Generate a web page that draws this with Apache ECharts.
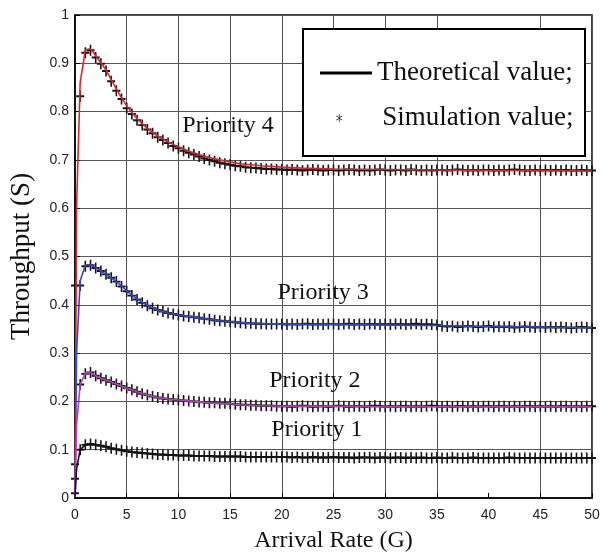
<!DOCTYPE html>
<html>
<head>
<meta charset="utf-8">
<script src="https://cdn.jsdelivr.net/npm/echarts@6/dist/echarts.min.js"></script>
<style>html,body{margin:0;padding:0;background:#fff;}#c{width:614px;height:558px;}</style>
</head>
<body>
<div id="c"></div>
<script>
// X values of theoretical curves
var thX = [0, 0.15, 0.5, 1, 1.5, 2, 2.5, 3, 3.5, 4, 4.5, 5, 5.5, 6, 7, 8, 9, 10, 11, 12, 13, 14, 15, 16, 17, 18, 20, 22, 25, 30, 35, 40, 45, 50];
var thP4 = [0, 0.60, 0.86, 0.928, 0.93, 0.916, 0.901, 0.886, 0.866, 0.847, 0.829, 0.812, 0.798, 0.786, 0.765, 0.749, 0.737, 0.727, 0.718, 0.711, 0.705, 0.700, 0.696, 0.692, 0.690, 0.688, 0.685, 0.683, 0.681, 0.680, 0.679, 0.678, 0.678, 0.677];
var thP3 = [0, 0.30, 0.45, 0.482, 0.483, 0.477, 0.470, 0.463, 0.456, 0.448, 0.439, 0.429, 0.420, 0.412, 0.399, 0.389, 0.383, 0.379, 0.376, 0.373, 0.370, 0.367, 0.365, 0.363, 0.362, 0.361, 0.360, 0.359, 0.359, 0.358, 0.357, 0.355, 0.354, 0.352];
var thP2 = [0, 0.15, 0.235, 0.258, 0.260, 0.253, 0.248, 0.244, 0.240, 0.236, 0.232, 0.228, 0.224, 0.220, 0.213, 0.208, 0.205, 0.203, 0.201, 0.199, 0.197, 0.196, 0.195, 0.193, 0.192, 0.191, 0.190, 0.190, 0.190, 0.189, 0.189, 0.189, 0.189, 0.189];
var thP1 = [0, 0.06, 0.100, 0.110, 0.111, 0.110, 0.108, 0.106, 0.103, 0.101, 0.099, 0.097, 0.095, 0.094, 0.092, 0.090, 0.089, 0.088, 0.088, 0.087, 0.087, 0.086, 0.086, 0.086, 0.085, 0.085, 0.085, 0.084, 0.084, 0.084, 0.083, 0.083, 0.083, 0.083];

// X values of simulation points
var simX = [0, 0.5, 1, 1.5, 2, 2.5, 3, 3.5, 4, 4.5, 5, 5.5, 6, 6.5, 7, 7.5, 8, 8.5, 9, 9.5,
  10, 10.5, 11, 11.5, 12, 12.5, 13, 13.5, 14, 14.5, 15, 15.5, 16, 16.5, 17, 17.5, 18, 18.5, 19, 19.5,
  20, 20.5, 21, 21.5, 22, 22.5, 23, 23.5, 24, 24.5, 25, 25.5, 26, 26.5, 27, 27.5, 28, 28.5, 29, 29.5,
  30, 30.5, 31, 31.5, 32, 32.5, 33, 33.5, 34, 34.5, 35, 35.5, 36, 36.5, 37, 37.5, 38, 38.5, 39, 39.5,
  40, 40.5, 41, 41.5, 42, 42.5, 43, 43.5, 44, 44.5, 45, 45.5, 46, 46.5, 47, 47.5, 48, 48.5, 49, 49.5, 50];
var simP4 = [0.44, 0.832, 0.922, 0.927, 0.912, 0.899, 0.884, 0.863, 0.843, 0.826,
  0.807, 0.795, 0.782, 0.772, 0.763, 0.755, 0.747, 0.741, 0.735, 0.729,
  0.724, 0.719, 0.715, 0.711, 0.707, 0.703, 0.700, 0.697, 0.694, 0.692,
  0.690, 0.688, 0.687, 0.685, 0.684, 0.683, 0.682, 0.681, 0.681, 0.680,
  0.680,
  0.679, 0.680, 0.679, 0.678, 0.679, 0.680, 0.679, 0.678, 0.679, 0.679,
  0.678, 0.679, 0.680, 0.679, 0.678, 0.679, 0.678, 0.679, 0.680, 0.679,
  0.678, 0.679, 0.679, 0.678, 0.680, 0.679, 0.678, 0.679, 0.678, 0.679,
  0.679, 0.678, 0.679, 0.680, 0.679, 0.678, 0.679, 0.678, 0.679, 0.679,
  0.678, 0.679, 0.678, 0.679, 0.680, 0.679, 0.678, 0.678, 0.679, 0.678,
  0.679, 0.678, 0.679, 0.678, 0.679, 0.678, 0.678, 0.679, 0.678, 0.678];
var simP3 = [0.07, 0.44, 0.480, 0.482, 0.476, 0.470, 0.463, 0.456, 0.448, 0.438,
  0.428, 0.419, 0.411, 0.404, 0.398, 0.393, 0.389, 0.386, 0.383, 0.381,
  0.379, 0.377, 0.376, 0.374, 0.373, 0.371, 0.370, 0.368, 0.367, 0.366,
  0.365, 0.364, 0.363, 0.362, 0.362, 0.361, 0.361, 0.360, 0.360, 0.360,
  0.360,
  0.359, 0.360, 0.359, 0.360, 0.361, 0.359, 0.360, 0.359, 0.360, 0.360,
  0.359, 0.360, 0.361, 0.359, 0.360, 0.359, 0.360, 0.360, 0.359, 0.360,
  0.359, 0.360, 0.360, 0.359, 0.360, 0.361, 0.359, 0.360, 0.359, 0.358,
  0.356, 0.355, 0.356, 0.354, 0.355, 0.356, 0.355, 0.354, 0.355, 0.356,
  0.354, 0.355, 0.354, 0.355, 0.353, 0.354, 0.355, 0.354, 0.353, 0.354,
  0.353, 0.354, 0.353, 0.354, 0.353, 0.352, 0.353, 0.354, 0.353, 0.352];
var simP2 = [0.04, 0.235, 0.257, 0.260, 0.253, 0.248, 0.244, 0.240, 0.236, 0.232,
  0.228, 0.224, 0.220, 0.216, 0.213, 0.210, 0.208, 0.206, 0.205, 0.204,
  0.203, 0.202, 0.201, 0.200, 0.199, 0.198, 0.197, 0.197, 0.196, 0.196,
  0.195, 0.194, 0.193, 0.193, 0.192, 0.192, 0.191, 0.191, 0.191, 0.190,
  0.190,
  0.190, 0.189, 0.190, 0.191, 0.190, 0.189, 0.190, 0.190, 0.189, 0.190,
  0.191, 0.190, 0.189, 0.190, 0.190, 0.189, 0.190, 0.191, 0.190, 0.189,
  0.190, 0.189, 0.190, 0.190, 0.189, 0.190, 0.189, 0.190, 0.191, 0.190,
  0.189, 0.190, 0.189, 0.190, 0.190, 0.189, 0.190, 0.189, 0.190, 0.190,
  0.189, 0.190, 0.190, 0.189, 0.190, 0.189, 0.190, 0.190, 0.189, 0.190,
  0.189, 0.190, 0.189, 0.190, 0.190, 0.189, 0.190, 0.189, 0.190, 0.190];
var simP1 = [0.01, 0.100, 0.110, 0.112, 0.110, 0.108, 0.106, 0.103, 0.101, 0.099,
  0.097, 0.095, 0.094, 0.093, 0.092, 0.091, 0.090, 0.090, 0.089, 0.089,
  0.088, 0.088, 0.088, 0.087, 0.087, 0.087, 0.087, 0.086, 0.086, 0.086,
  0.086, 0.086, 0.086, 0.085, 0.085, 0.085, 0.085, 0.085, 0.085, 0.085,
  0.085,
  0.085, 0.084, 0.085, 0.084, 0.084, 0.085, 0.084, 0.084, 0.084, 0.085,
  0.084, 0.084, 0.084, 0.083, 0.084, 0.084, 0.084, 0.083, 0.084, 0.084,
  0.083, 0.084, 0.084, 0.083, 0.084, 0.083, 0.084, 0.083, 0.083, 0.084,
  0.083, 0.083, 0.084, 0.083, 0.083, 0.083, 0.084, 0.083, 0.083, 0.083,
  0.083, 0.083, 0.083, 0.084, 0.083, 0.083, 0.083, 0.083, 0.083, 0.083,
  0.083, 0.083, 0.083, 0.083, 0.083, 0.083, 0.083, 0.083, 0.083, 0.083];

// Curve annotations (data coordinates)
var labelText = ['Priority 4', 'Priority 3', 'Priority 2', 'Priority 1'];
var labelX = [14.8, 24.0, 23.2, 23.4];
var labelY = [0.77, 0.425, 0.242, 0.142];

var thName = 'Theoretical value;';
var simName = 'Simulation value;';
var serif = '"Liberation Serif", "Times New Roman", serif';
var sans = '"Liberation Sans", Arial, sans-serif';
var lineColors = ['#d8262e', '#3446d6', '#b93cc4', '#111111'];
var thData = [thP4, thP3, thP2, thP1];
var simData = [simP4, simP3, simP2, simP1];
var plusPath = 'path://M4,0 L6,0 L6,4.1 L10,4.1 L10,5.9 L6,5.9 L6,10 L4,10 L4,5.9 L0,5.9 L0,4.1 L4,4.1 Z';
var starPath = 'path://M4.5,0 L5.5,0 L5.5,3.6 L8.6,1.8 L9.1,2.7 L6,4.5 L6,5.5 L9.1,7.3 L8.6,8.2 L5.5,6.4 L5.5,10 L4.5,10 L4.5,6.4 L1.4,8.2 L0.9,7.3 L4,5.5 L4,4.5 L0.9,2.7 L1.4,1.8 L4.5,3.6 Z';
// vertical split lines in turn (x = 0..50); the x = 40 line is absent in the reference
var vGridColors = ['#555', '#555', '#555', '#555', '#555', '#555', '#555', '#555', 'rgba(0,0,0,0)', '#555', '#555'];

function pairs(xs, ys) { return xs.map(function (x, i) { return [x, ys[i]]; }); }

var series = [];
for (var k = 0; k < 4; k++) {
  series.push({
    name: simName, type: 'line', data: pairs(simX, simData[k]),
    lineStyle: { width: 0, opacity: 0 }, symbol: plusPath, symbolSize: [8, 11],
    itemStyle: { color: '#151515' }, z: 2, silent: true
  });
}
for (var k2 = 0; k2 < 4; k2++) {
  series.push({
    name: thName, type: 'line', data: pairs(thX, thData[k2]), showSymbol: false, symbol: 'none',
    lineStyle: { width: 1.6, color: lineColors[k2] }, itemStyle: { color: lineColors[k2] }, z: 3,
    markPoint: {
      symbol: 'circle', symbolSize: 0, silent: true,
      data: [{ coord: [labelX[k2], labelY[k2]] }],
      label: { show: true, position: 'inside', formatter: labelText[k2], fontFamily: serif, fontSize: 24, color: '#111' }
    }
  });
}

var chart = echarts.init(document.getElementById('c'));
chart.setOption({
  animation: false,
  backgroundColor: '#fff',
  grid: { left: 75, right: 22, top: 15, bottom: 56, show: true, borderColor: '#000', borderWidth: 1.5 },
  xAxis: {
    type: 'value', min: 0, max: 50, interval: 5,
    name: 'Arrival Rate (G)', nameLocation: 'middle', nameGap: 31,
    nameTextStyle: { fontFamily: serif, fontSize: 24, color: '#111' },
    axisLine: { lineStyle: { color: '#000', width: 1.5 } },
    axisTick: { inside: true, length: 5, lineStyle: { color: '#000' } },
    axisLabel: { fontFamily: sans, fontSize: 14, color: '#222', margin: 10 },
    splitLine: { show: true, lineStyle: { color: vGridColors, width: 1 } }
  },
  yAxis: {
    type: 'value', min: 0, max: 1, interval: 0.1,
    name: 'Throughput (S)', nameLocation: 'middle', nameGap: 40, nameRotate: 90,
    nameTextStyle: { fontFamily: serif, fontSize: 27, color: '#111' },
    axisLine: { show: true, lineStyle: { color: '#000', width: 1.5 } },
    axisTick: { show: true, inside: true, length: 5, lineStyle: { color: '#000' } },
    axisLabel: { fontFamily: sans, fontSize: 14, color: '#222', margin: 6 },
    splitLine: { show: true, lineStyle: { color: '#555', width: 1 } }
  },
  legend: [
    {
      left: 320, top: 58, padding: 0, itemWidth: 52, itemHeight: 3,
      data: [{ name: thName, icon: 'rect', itemStyle: { color: '#000' } }],
      textStyle: { fontFamily: serif, fontSize: 27, color: '#111', lineHeight: 30 },
      selectedMode: false
    },
    {
      left: 336, top: 103, padding: 0, itemWidth: 8, itemHeight: 8,
      data: [{ name: simName, icon: starPath, itemStyle: { color: '#333' } }],
      textStyle: { fontFamily: serif, fontSize: 27, color: '#111', lineHeight: 30, padding: [0, 0, 0, 34] },
      selectedMode: false
    }
  ],
  graphic: [{
    type: 'rect', z: 3, left: 302, top: 28,
    shape: { width: 282, height: 127 },
    style: { fill: '#fff', stroke: '#000', lineWidth: 2 }
  }],
  series: series
});
</script>
</body>
</html>
